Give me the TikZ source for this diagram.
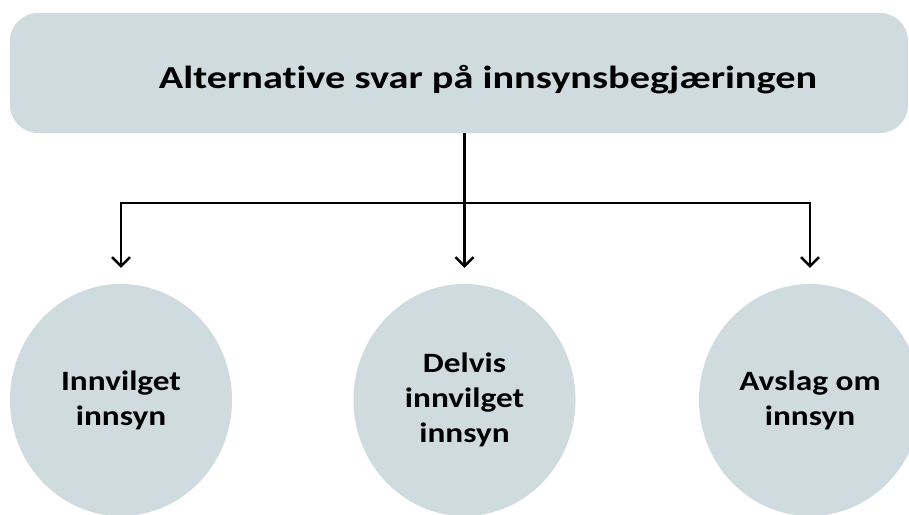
\documentclass[tikz,border=0pt]{standalone}
\usepackage{fontspec}
\setmainfont{Carlito}[Ligatures={NoCommon}]
\newfontfamily\titlefont{Carlito}[FakeStretch=1.26,Ligatures={NoCommon}]
\newfontfamily\ovalfont{Carlito}[FakeStretch=1.19,Ligatures={NoCommon}]
\usetikzlibrary{shapes.geometric,arrows.meta}
\definecolor{boxfill}{RGB}{208,219,223}
\tikzset{
  topbox/.style={draw=none,fill=boxfill,rounded corners=28pt,minimum width=898pt,minimum height=120pt,inner sep=0pt},
  oval/.style={ellipse,draw=none,fill=boxfill,minimum width=222pt,minimum height=232pt,inner sep=0pt,align=center,font=\ovalfont\fontsize{28}{35}\selectfont\bfseries},
  title/.style={font=\titlefont\fontsize{32}{36}\selectfont\bfseries,inner sep=0pt},
  conn/.style={line width=2.4pt,black},
  arr/.style={conn,-{Straight Barb[length=9pt,width=18pt,line width=2.4pt]},shorten >=16pt}
}
\begin{document}
\begin{tikzpicture}[x=1pt,y=1pt]
\useasboundingbox (0,0) rectangle (909,514);
\clip (0,0) rectangle (909,514);
\node[topbox] (top) at (459,441) {};
\node[title,anchor=base] (t) at (488,425) {Alternative svar på innsynsbegjæringen};
\node[oval] (l) at (121,114) {Innvilget\\innsyn};
\node[oval] (m) at (464.5,114) {Delvis\\innvilget\\innsyn};
\node[oval] (r) at (810,114) {Avslag om\\innsyn};
\coordinate (j) at (464.5,311);
\draw[arr] (top.south -| m.north) -- (m.north);
\draw[arr] (j) -| (l.north);
\draw[arr] (j) -| (r.north);
\end{tikzpicture}
\end{document}
